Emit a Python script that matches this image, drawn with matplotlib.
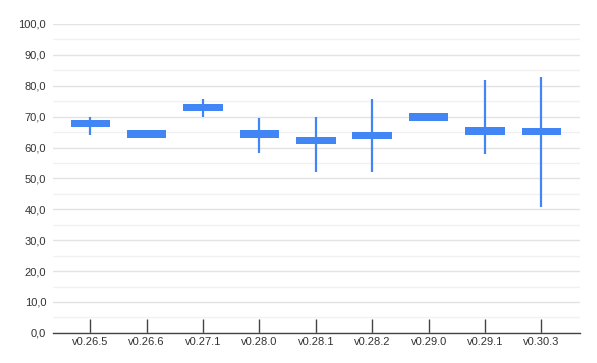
import numpy as np
import matplotlib
matplotlib.use('Agg')
from matplotlib import pyplot as plt
from matplotlib.ticker import FuncFormatter, MultipleLocator

plt.rcParams['font.family'] = ['Liberation Sans', 'DejaVu Sans']

# Dati
versions = ['v0.26.5', 'v0.26.6', 'v0.27.1', 'v0.28.0', 'v0.28.1',
            'v0.28.2', 'v0.29.0', 'v0.29.1', 'v0.30.3']
low = [64.0, 63.1, 70.0, 58.3, 52.0, 52.0, 68.6, 58.0, 40.8]
box_lo = [66.7, 63.1, 71.8, 63.1, 61.2, 62.8, 68.6, 64.1, 64.0]
box_hi = [68.9, 65.7, 74.1, 65.7, 63.4, 65.0, 71.2, 66.7, 66.3]
high = [70.0, 65.7, 75.7, 69.6, 70.0, 75.7, 71.2, 81.9, 82.8]

blue = '#4285f4'

fig = plt.figure(figsize=(5.97, 3.63), dpi=100)
ax = fig.add_axes([0.089, 0.083, 0.882, 0.851])

x = np.arange(len(versions))
ax.vlines(x, low, high, color=blue, linewidth=1.6, zorder=3)
ax.bar(x, np.array(box_hi) - np.array(box_lo), bottom=box_lo, width=0.7,
       color=blue, zorder=4)

ax.set_ylim(0, 100)
ax.set_xlim(-0.66, 8.68)
ax.yaxis.set_major_locator(MultipleLocator(10))
ax.yaxis.set_minor_locator(MultipleLocator(5))
ax.yaxis.set_major_formatter(FuncFormatter(lambda v, p: f'{v:.1f}'.replace('.', ',')))
ax.grid(axis='y', which='major', color='#e3e3e3', linewidth=1, zorder=0)
ax.grid(axis='y', which='minor', color='#f1f1f1', linewidth=1, zorder=0)

ax.set_xticks(x)
ax.set_xticklabels(versions)
ax.tick_params(axis='x', direction='in', length=10, width=1, color='#444444',
               labelsize=8, labelcolor='#333333', pad=3)
ax.tick_params(axis='y', which='both', length=0, labelsize=8,
               labelcolor='#333333', pad=5)

for s in ['top', 'right', 'left']:
    ax.spines[s].set_visible(False)
ax.spines['bottom'].set_color('#444444')
ax.spines['bottom'].set_linewidth(1)
ax.spines['bottom'].set_zorder(5)

plt.savefig('out.png', dpi=100)
